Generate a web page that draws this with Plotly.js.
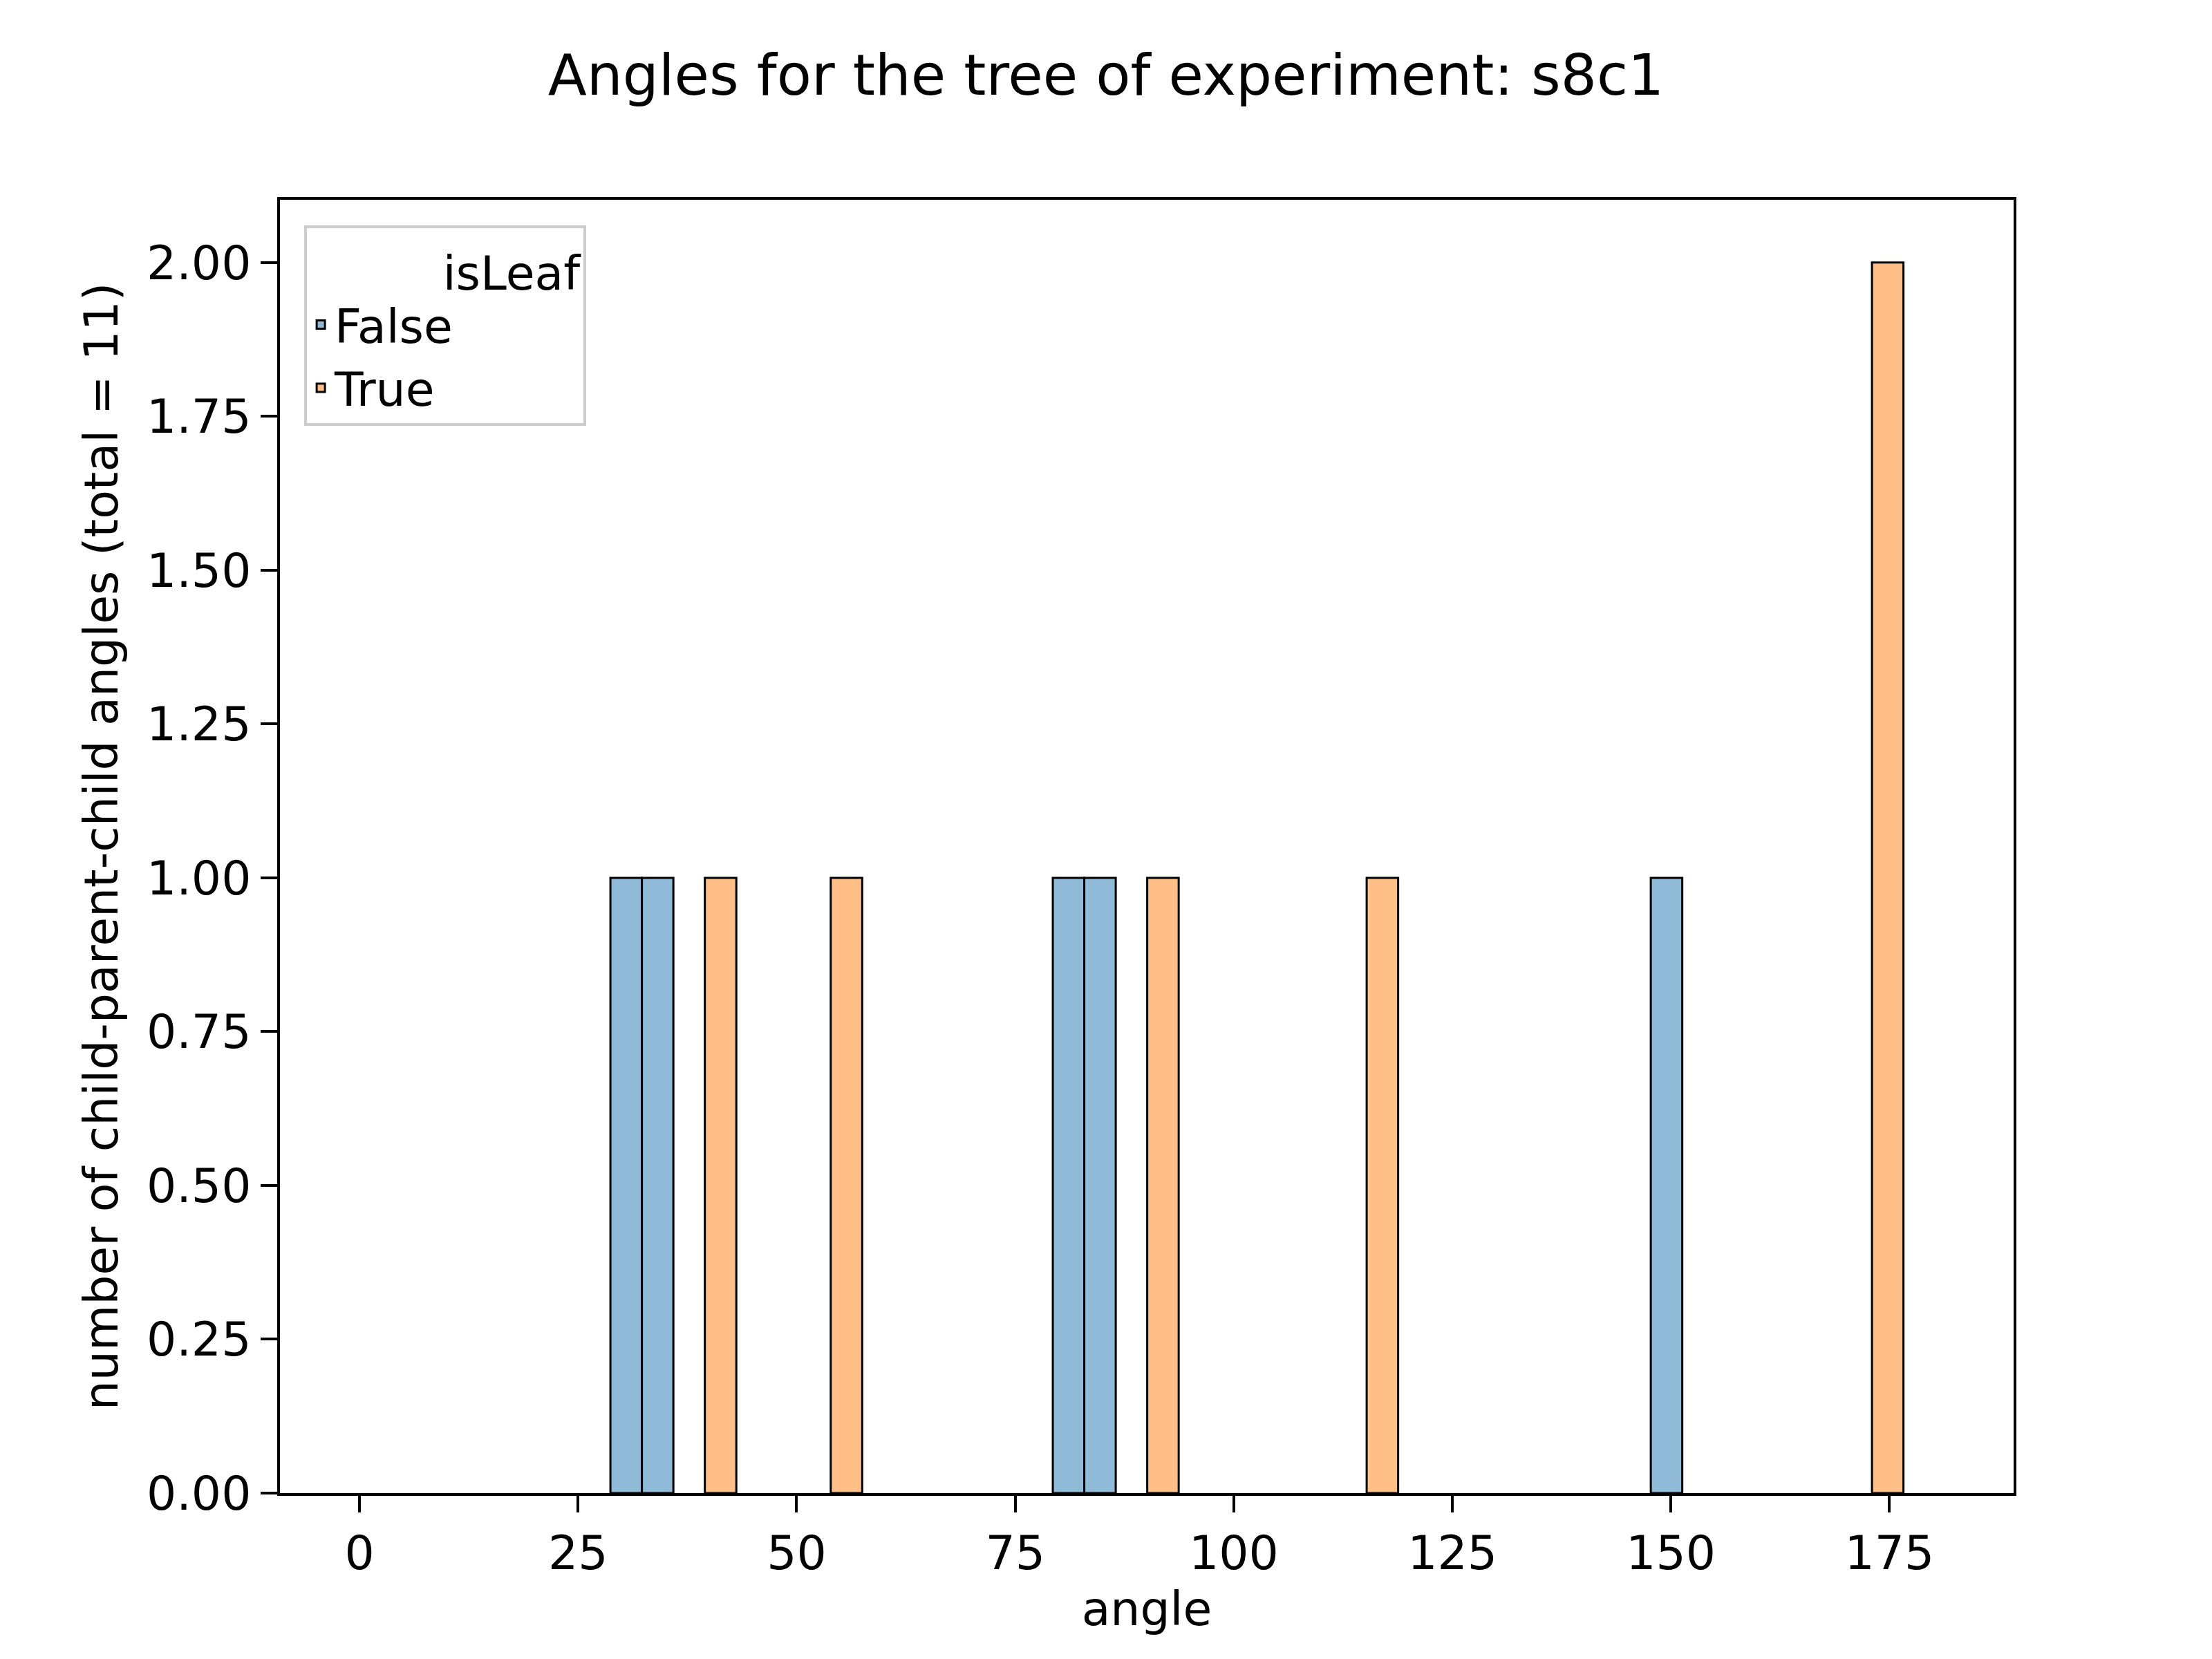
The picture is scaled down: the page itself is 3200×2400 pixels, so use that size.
<!DOCTYPE html>
<html>
<head>
<script src="https://cdn.plot.ly/plotly-3.0.1.min.js"></script>
<style>body{margin:0;background:#fff}</style>
</head>
<body>
<div id="chart" style="width:3200px;height:2400px"></div>
<script>
// histogram bins (centers, degrees) and counts per isLeaf group
let binWidth = 3.6;
let falseCenters = [30.5, 34.1, 81.1, 84.7, 149.5];
let falseCounts = [1, 1, 1, 1, 1];
let trueCenters = [41.3, 55.7, 91.9, 117.0, 174.8];
let trueCounts = [1, 1, 1, 1, 2];

let font = {family: 'DejaVu Sans', size: 68, color: '#000'};

function barTrace(x, y, color, name){
    return {
        type: 'bar', x: x, y: y, name: name,
        width: x.map(() => binWidth),
        marker: {color: color, line: {color: '#000', width: 3}}
    };
}

let axisBase = {
    showline: true, mirror: true, linecolor: '#000', linewidth: 4,
    ticks: 'outside', ticklen: 24, tickwidth: 4, tickcolor: '#000',
    showgrid: false, zeroline: false, tickfont: font
};

Plotly.newPlot('chart', [
    barTrace(falseCenters, falseCounts, '#8fbbd9', 'False'),
    barTrace(trueCenters, trueCounts, '#ffbf86', 'True')
], {
    width: 3200, height: 2400,
    margin: {l: 405, r: 287, t: 289, b: 240},
    paper_bgcolor: '#fff', plot_bgcolor: '#fff',
    font: font,
    barmode: 'overlay',
    title: {text: 'Angles for the tree of experiment: s8c1', font: {family: 'DejaVu Sans', size: 82}, x: 0.5, xanchor: 'center', y: 0.955, yanchor: 'middle'},
    xaxis: Object.assign({}, axisBase, {
        range: [-9.1, 189.2], tick0: 0, dtick: 25,
        title: {text: 'angle', font: font, standoff: 20}
    }),
    yaxis: Object.assign({}, axisBase, {
        range: [0, 2.102], dtick: 0.25, tickformat: '.2f',
        title: {text: 'number of child-parent-child angles (total = 11)', font: font, standoff: 20}
    }),
    showlegend: true,
    legend: {
        x: 0.014, y: 0.98, xanchor: 'left', yanchor: 'top',
        bgcolor: 'rgba(255,255,255,0.8)', bordercolor: '#ccc', borderwidth: 4,
        title: {text: '         isLeaf', font: font, side: 'top'},
        font: font, traceorder: 'normal'
    }
}, {displayModeBar: false});
</script>
</body>
</html>
